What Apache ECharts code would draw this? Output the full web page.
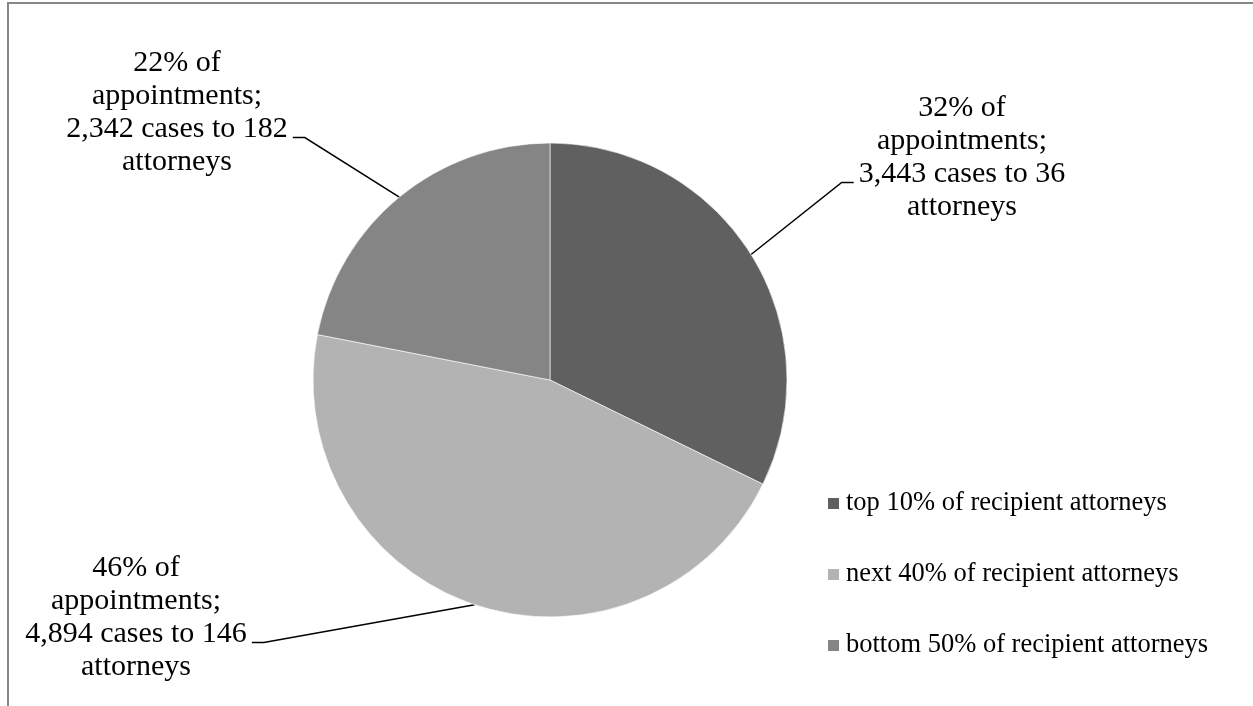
<!DOCTYPE html>
<html>
<head>
<meta charset="utf-8">
<script src="https://cdn.jsdelivr.net/npm/echarts@6/dist/echarts.min.js"></script>
<style>
  html, body { margin: 0; padding: 0; background: #fff; }
  #chart { width: 1253px; height: 706px; }
</style>
</head>
<body>
<div id="chart"></div>
<script>
// Appointments by attorney group
const categories = [
  'top 10% of recipient attorneys',
  'next 40% of recipient attorneys',
  'bottom 50% of recipient attorneys'
];
const cases = [3443, 4894, 2342];
const attorneys = [36, 146, 182];
const colors = ['#606060', '#b3b3b3', '#858585'];

// Centre of each callout's text block
const labelSpots = [
  { x: 962, y: 158 },
  { x: 136, y: 618 },
  { x: 177, y: 113 }
];
const LINE_H = 33;
// An invisible trailing line lowers the middle of the callout box so the
// leader line meets the text at the baseline of its third line
const TAIL_H = 49;

const chart = echarts.init(document.getElementById('chart'), null, { renderer: 'canvas' });
const serif = '"Liberation Serif", "Times New Roman", serif';

chart.setOption({
  animation: false,
  backgroundColor: '#ffffff',
  color: colors,
  graphic: [{
    type: 'polyline',
    shape: { points: [[8, 720], [8, 3], [1270, 3]] },
    style: { stroke: '#878787', lineWidth: 2, fill: null },
    silent: true
  }],
  legend: {
    orient: 'vertical',
    left: 821,
    top: 483,
    itemWidth: 13,
    itemHeight: 13,
    itemGap: 40,
    icon: 'rect',
    data: categories,
    textStyle: { fontFamily: serif, fontSize: 26.5, color: '#000', lineHeight: 31, padding: [0, 0, 0, 1] }
  },
  series: [{
    type: 'pie',
    center: [550, 380],
    radius: 237,
    startAngle: 90,
    clockwise: true,
    percentPrecision: 0,
    avoidLabelOverlap: false,
    itemStyle: { borderColor: '#ffffff', borderWidth: 0.6 },
    data: categories.map((name, i) => ({ name, value: cases[i] })),
    label: {
      show: true,
      position: 'outside',
      fontFamily: serif,
      fontSize: 30,
      lineHeight: LINE_H,
      color: '#000',
      align: 'center',
      rich: {
        // widest line, padded so the leader stops short of the text
        mid: { fontFamily: serif, fontSize: 30, lineHeight: LINE_H, color: '#000', padding: [0, 5, 0, 5] },
        tail: { fontSize: 4, lineHeight: TAIL_H }
      },
      formatter: p => p.percent + '% of\nappointments;\n{mid|' +
        echarts.format.addCommas(p.value) + ' cases to ' + attorneys[p.dataIndex] +
        '}\nattorneys\n{tail| }'
    },
    labelLine: {
      show: true,
      length: 20,
      length2: 12,
      lineStyle: { color: '#000', width: 1.5 }
    },
    labelLayout: p => ({
      x: labelSpots[p.dataIndex].x,
      y: labelSpots[p.dataIndex].y + TAIL_H / 2,
      align: 'center',
      verticalAlign: 'middle'
    }),
    emphasis: { disabled: true }
  }]
});
</script>
</body>
</html>
